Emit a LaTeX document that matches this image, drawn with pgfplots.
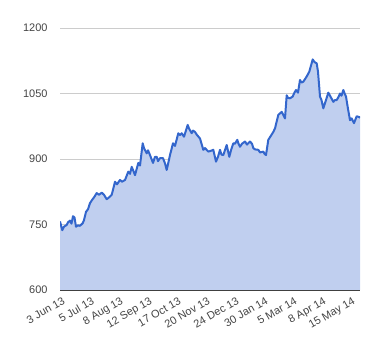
\documentclass[border=0pt]{standalone}
\usepackage{pgfplots}
\pgfplotsset{compat=1.18}
\usepackage{pgfplotstable}
\usepackage{fontspec}
\setmainfont{Liberation Sans}
\definecolor{gline}{RGB}{51,102,204}
\definecolor{gfill}{RGB}{192,207,239}
\definecolor{ggrid}{RGB}{204,204,204}
\definecolor{gtext}{RGB}{68,68,68}
\pgfplotstableread{
x y
0 757
2.3 737
4 745
6.7 749
8 755
10 759
11.5 752
13 769
14.5 766
16 745
18 748
20 747
22.7 753
24 760
26 779
28 785
30 799
32 806
34 812
36.7 822
39 818
41.7 823
44 818
46.7 808
49 812
51.7 818
55 848
57 842
60 852
62 848
65 852
68.3 871
70 866
71.7 882
73 875
75 863
78.3 891
80 885
82.7 936
84 925
86.7 913
88 920
90 909
93 891
95 905
96.7 905
98 895
100 902
103 902
105 890
106.7 875
108 888
110 909
113 936
115 930
118.3 959
120 955
121.7 959
124 951
127.7 978
129 970
131.7 959
133 965
135 962
137 955
140 947
143.3 921
145 925
148.3 917
150 918
153.3 921
156 894
158 905
160 921
161.5 910
163.3 909
166.7 932
169.3 905
171 920
173.3 936
175 935
177.3 944
178.5 935
180 928
182 935
185 940
187 933
190 940
192 935
193.3 925
195 922
198.3 921
200 915
203.3 917
204.5 912
206 909
208.3 944
210 950
213.3 962
215 970
218.3 1001
221.7 1008
225 993
226.7 1046
228 1040
230 1039
232.7 1043
234 1050
236 1058
238 1052
240 1081
241.5 1075
243.3 1077
246.7 1089
249.3 1100
252.7 1128
254.5 1122
256.7 1119
258 1100
260 1043
261.5 1035
263.3 1016
266 1035
268.3 1052
270 1045
273.3 1031
275 1035
276.7 1035
278.5 1042
280 1050
281.5 1045
283.3 1058
285 1048
286 1043
288 1015
290 989
291.7 993
294 982
296.7 998
299.3 996
300 994
}\datatable
\begin{document}
\begin{tikzpicture}
\useasboundingbox (0,0) rectangle (380bp,360bp);
\begin{axis}[
  at={(60bp,70bp)}, anchor=south west,
  scale only axis, width=300bp, height=262bp,
  xmin=0, xmax=300, ymin=600, ymax=1200,
  ytick={750,900,1050,1200},
  extra y ticks={600},
  extra y tick style={grid style={draw=black!75, line width=1pt}},
  ymajorgrids, grid style={ggrid, line width=0.8pt},
  axis line style={draw=none},
  major tick length=0pt,
  xtick={0,29,58,87,116,145,174,203,232,261,290},
  xticklabels={3 Jun 13,5 Jul 13,8 Aug 13,12 Sep 13,17 Oct 13,20 Nov 13,24 Dec 13,30 Jan 14,5 Mar 14,8 Apr 14,15 May 14},
  x tick label style={rotate=30, anchor=north east, inner sep=0.5pt, yshift=-6bp, xshift=-1bp},
  y tick label style={xshift=-9bp},
  tick label style={font=\fontsize{11}{13}\selectfont, text=gtext},
  /pgf/number format/assume math mode=true,
  /pgf/number format/1000 sep={},
]
\addplot[fill=gfill, draw=none] table[x=x,y=y]{\datatable} \closedcycle;
\addplot[gline, line width=2bp, line join=round] table[x=x,y=y]{\datatable};
\end{axis}
\end{tikzpicture}
\end{document}
